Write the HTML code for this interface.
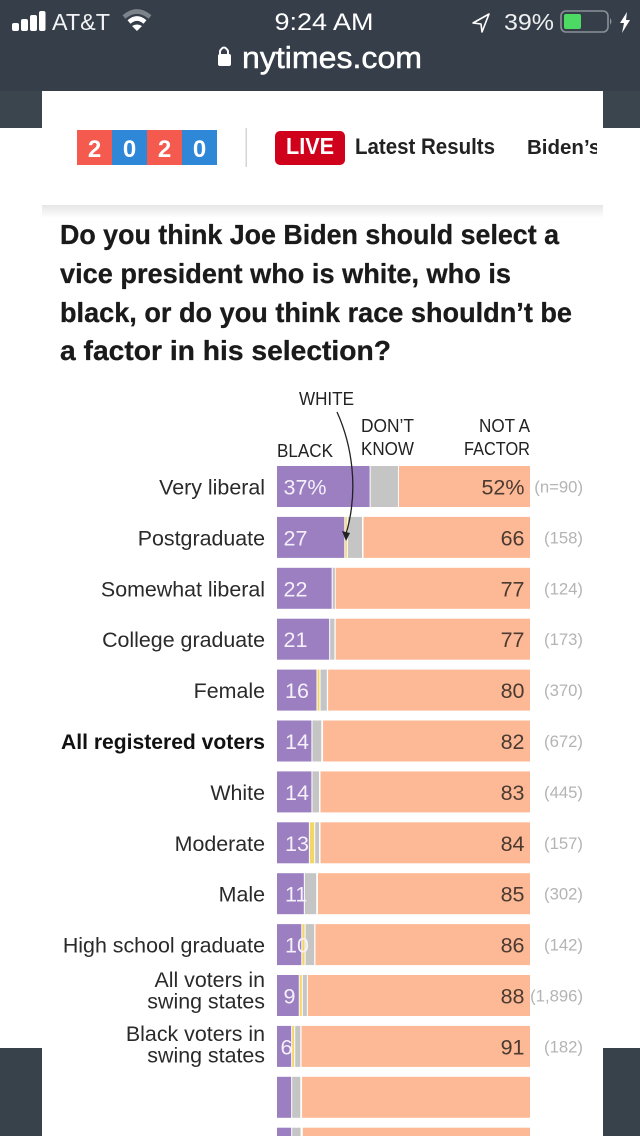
<!DOCTYPE html>
<html lang="en">
<head>
<meta charset="utf-8">
<title>Biden VP selection poll</title>
<style>
html,body{margin:0;padding:0;background:#fff;width:640px;height:1136px;overflow:hidden}
svg{display:block;font-family:"Liberation Sans",sans-serif}
</style>
</head>
<body>
<svg id="page" xmlns="http://www.w3.org/2000/svg" width="640" height="1136" viewBox="0 0 640 1136">
  <defs>
    <linearGradient id="shadowGrad" x1="0" y1="0" x2="0" y2="1">
      <stop offset="0" stop-color="#e6e6e6"/>
      <stop offset="1" stop-color="#ffffff"/>
    </linearGradient>
  </defs>
  <rect width="640" height="1136" fill="#fff"/>
  <rect width="640" height="91" fill="#363e49"/>
  <rect x="0" y="91" width="42" height="37" fill="#3a454e"/>
  <rect x="603" y="91" width="37" height="37" fill="#3a454e"/>
  <rect x="0" y="1048" width="42" height="88" fill="#37424b"/>
  <rect x="603" y="1048" width="37" height="88" fill="#37424b"/>

  <g fill="#fff">
    <rect x="12" y="23" width="7" height="8" rx="2"/><rect x="21" y="19" width="7" height="12" rx="2"/><rect x="30" y="15" width="7" height="16" rx="2"/><rect x="39" y="11" width="6.5" height="20" rx="2"/>
  </g>
  <text x="52" y="30" font-size="23" fill="#f1f3f4" textLength="58" lengthAdjust="spacingAndGlyphs">AT&amp;T</text>
  <g fill="none">
    <path d="M124 17 Q137 6 150 17" stroke="#7d838a" stroke-width="4.5"/>
    <path d="M129 22 Q137 15 145 22" stroke="#fff" stroke-width="4.5"/>
    <path d="M132 26 L137 31 L142 26 Q137 23 132 26Z" fill="#fff"/>
  </g>
  <text x="324" y="30" font-size="24" fill="#fff" text-anchor="middle" textLength="99" lengthAdjust="spacingAndGlyphs">9:24 AM</text>
  <path d="M489 14 L473 23 L481 24 L482 32 Z" fill="none" stroke="#fff" stroke-width="1.6" stroke-linejoin="round"/>
  <text x="504" y="30" font-size="23" fill="#eef0f1" textLength="50" lengthAdjust="spacingAndGlyphs">39%</text>
  <g>
    <rect x="561" y="11" width="47" height="21" rx="5" fill="none" stroke="#8a9097" stroke-width="1.6"/>
    <rect x="564" y="14" width="17" height="15" rx="2" fill="#4cd964"/>
    <path d="M610 18 Q613 21 610 25Z" fill="#8a9097"/>
  </g>
  <path d="M627 12 L620 23 L624 23 L622 33 L630 20 L626 20 Z" fill="#fff"/>
  <g>
    <path d="M220 54 V51 Q224 44 228 51 V54" fill="none" stroke="#fff" stroke-width="2"/>
    <rect x="218" y="54" width="13" height="12" rx="2" fill="#fff"/>
  </g>
  <text x="242" y="68" font-size="31" font-weight="400" fill="#fff" textLength="180" lengthAdjust="spacingAndGlyphs" stroke="#fff" stroke-width=".5">nytimes.com</text>

  <rect x="42" y="91" width="561" height="114" fill="#fff"/>
  <rect x="42" y="205" width="561" height="13" fill="url(#shadowGrad)"/>
  <g>
    <rect x="77" y="130" width="35" height="35" fill="#f55a4e"/><rect x="112" y="130" width="35" height="35" fill="#2f87d8"/><rect x="147" y="130" width="35" height="35" fill="#f55a4e"/><rect x="182" y="130" width="35" height="35" fill="#2f87d8"/>
    <g font-size="24" font-weight="700" fill="#fff" text-anchor="middle">
      <text x="94.5" y="157">2</text><text x="129.5" y="157">0</text><text x="164.5" y="157">2</text><text x="199.5" y="157">0</text>
    </g>
  </g>
  <rect x="245.5" y="128" width="1.5" height="39" fill="#d5d5d5"/>
  <rect x="275" y="131" width="70" height="34" rx="5" fill="#d0021b"/>
  <text x="310" y="154" font-size="23" font-weight="700" fill="#fff" text-anchor="middle" textLength="48" lengthAdjust="spacingAndGlyphs">LIVE</text>
  <text x="355" y="154" font-size="22" font-weight="700" fill="#222" textLength="140" lengthAdjust="spacingAndGlyphs">Latest Results</text>
  <svg x="500" y="120" width="97" height="50" viewBox="500 120 97 50">
    <text x="527" y="154" font-size="20.5" font-weight="700" fill="#222">Biden’s VP</text>
  </svg>

  <g font-size="28" font-weight="700" fill="#1a1a1a" stroke="#1a1a1a" stroke-width=".3">
    <text x="60" y="244" textLength="499" lengthAdjust="spacingAndGlyphs">Do you think Joe Biden should select a</text>
    <text x="60" y="283" textLength="451" lengthAdjust="spacingAndGlyphs">vice president who is white, who is</text>
    <text x="60" y="322" textLength="512" lengthAdjust="spacingAndGlyphs">black, or do you think race shouldn’t be</text>
    <text x="60" y="360" textLength="331" lengthAdjust="spacingAndGlyphs">a factor in his selection?</text>
  </g>

  <g font-size="18" fill="#222">
    <text x="299" y="405" textLength="55" lengthAdjust="spacingAndGlyphs">WHITE</text>
    <text x="361" y="432" textLength="53" lengthAdjust="spacingAndGlyphs">DON’T</text>
    <text x="361" y="455" textLength="53" lengthAdjust="spacingAndGlyphs">KNOW</text>
    <text x="479" y="432" textLength="51" lengthAdjust="spacingAndGlyphs">NOT A</text>
    <text x="464" y="455" textLength="66" lengthAdjust="spacingAndGlyphs">FACTOR</text>
    <text x="277" y="457" textLength="56" lengthAdjust="spacingAndGlyphs">BLACK</text>
  </g>

  <g id="bars"></g>

  <g>
    <path d="M337 412 C352 445 359 490 346 534" fill="none" stroke="#222" stroke-width="1.3"/>
    <path d="M346 541 L342 531 L350 533 Z" fill="#222"/>
  </g>
</svg>

<script>
const categories = ["Very liberal","Postgraduate","Somewhat liberal","College graduate","Female","All registered voters","White","Moderate","Male","High school graduate","All voters in|swing states","Black voters in|swing states","",""];
const blackValues = [37,27,22,21,16,14,14,13,11,10,9,6,6,6];
const whiteValues = [0,1,0,0,1.2,0,0,2.1,0,1.3,1.2,1.2,0,0];
const dontKnowValues = [11.2,6,1.3,2.1,2.9,3.9,3,1.9,4.9,3.8,2,2.4,3.6,3.7];
const notFactorValues = [52,66,77,77,80,82,83,83,84,85,88,90.5,90.3,90];
const sampleLabels = ["(n=90)","(158)","(124)","(173)","(370)","(672)","(445)","(157)","(302)","(142)","(1,896)","(182)","",""];
const valueLabels = ["37%","27","22","21","16","14","14","13","11","10","9","6","",""];
const factorLabels = ["52%","66","77","77","80","82","83","84","85","86","88","91","",""];
const emphasized = "All registered voters";

const NS = "http://www.w3.org/2000/svg";
const chart = document.getElementById("bars");
const xStart = 277, xEnd = 530, barHeight = 41, firstRow = 466, rowStep = 50.9;
const xScale = v => (xEnd - xStart) * v / 100;
const rowY = i => firstRow + i * rowStep;

function rect(x, y, w, h, fill) {
  const r = document.createElementNS(NS, "rect");
  r.setAttribute("x", x);
  r.setAttribute("y", y);
  r.setAttribute("width", Math.max(w, 0));
  r.setAttribute("height", h);
  r.setAttribute("fill", fill);
  return r;
}
function label(str, x, y, size, fill, anchor) {
  const t = document.createElementNS(NS, "text");
  t.setAttribute("x", x);
  t.setAttribute("y", y);
  t.setAttribute("font-size", size);
  t.setAttribute("fill", fill);
  t.setAttribute("text-anchor", anchor);
  t.textContent = str;
  return t;
}
function valueInset(i) {
  if (i >= 4 && i <= 9) return 8;
  if (i === 11) return 3.5;
  return 6.5;
}
function labelBaseline(i, k, mid, lineCount) {
  if (lineCount === 1) return mid + 8;
  const first = i === 10 ? mid - 8.5 : mid - 5.5;
  return first + k * 21.5;
}

categories.forEach((cat, i) => {
  const y = rowY(i);
  const mid = y + barHeight / 2;

  const row = document.createElementNS(NS, "g");
  
  

  let x = xStart;
  const bw = xScale(blackValues[i]);
  const black = rect(x, y, bw - 1, barHeight, "#9b7fc1");
  
  
  row.appendChild(black);
  x += bw;

  if (whiteValues[i] > 0) {
    const ww = xScale(whiteValues[i]);
    const white = rect(x, y, ww - 1, barHeight, "#f3d668");
    
    
    row.appendChild(white);
    x += ww;
  }

  const gw = xScale(dontKnowValues[i]);
  const gray = rect(x, y, gw - 1, barHeight, "#c5c5c5");
  
  
  row.appendChild(gray);

  const nw = xScale(notFactorValues[i]) - 0.5;
  const factor = rect(xEnd - nw, y, nw, barHeight, "#fdb996");
  
  
  row.appendChild(factor);

  if (valueLabels[i]) {
    const v = label(valueLabels[i], xStart + valueInset(i), mid + 8, 21.5, "#f5f0fa", "start");
    
    
    row.appendChild(v);
  }
  if (factorLabels[i]) {
    const f = label(factorLabels[i], xEnd - 5.5, mid + 8, 21.5, "#4a3a30", "end");
    
    
    row.appendChild(f);
  }
  if (sampleLabels[i]) {
    const n = label(sampleLabels[i], 583, mid + 6, 16.7, "#b4b4b4", "end");
    
    
    row.appendChild(n);
  }
  if (cat) {
    const lines = cat.split("|");
    lines.forEach((line, k) => {
      const t = label(line, 265, labelBaseline(i, k, mid, lines.length), 21.4, "#2a2a2a", "end");
      
      
      if (cat === emphasized) {
        t.setAttribute("font-weight", "700");
        t.setAttribute("font-size", "21.1");
        t.setAttribute("fill", "#111");
      }
      row.appendChild(t);
    });
  }
  chart.appendChild(row);
});
</script>
</body>
</html>
